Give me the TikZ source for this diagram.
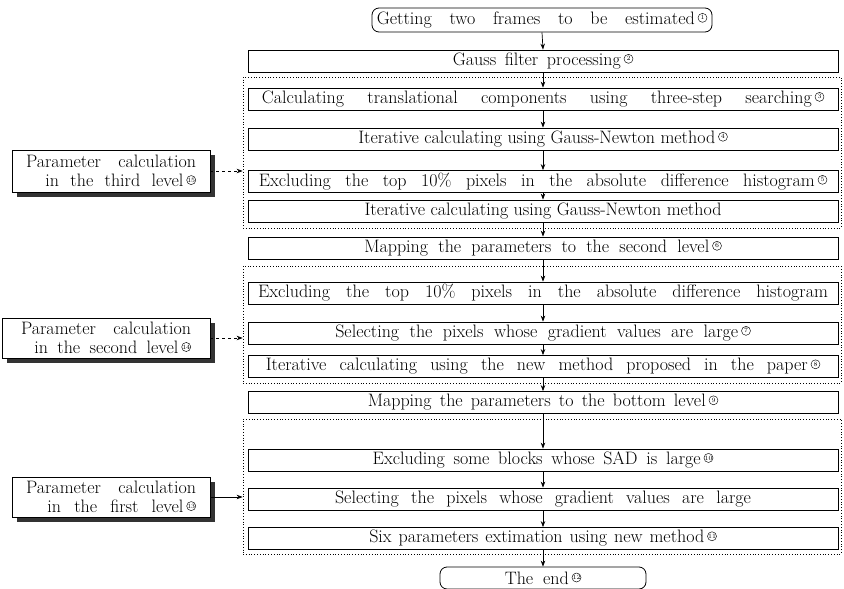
\documentclass[tikz,border=0pt]{standalone}
\usepackage{fontspec}
\setmainfont{Latin Modern Roman}
\usetikzlibrary{arrows.meta,shadows}
\newcommand{\cn}[1]{\,\raisebox{4.5pt}{\tikz[baseline=(cc.base)]\node[circle,draw,line width=0.45pt,inner sep=0pt,minimum size=9pt,font=\fontsize{6.5}{6.5}\selectfont](cc){#1};}}
\newcommand{\wl}[2]{\makebox[#1pt][s]{#2}}
\begin{document}
\begin{tikzpicture}[x=1pt,y=-1pt,
  mainbox/.style={draw, line width=0.8pt, minimum width=590pt, minimum height=22pt, inner sep=0pt, font=\fontsize{18}{20}\selectfont},
  termbox/.style={draw, line width=0.8pt, rounded corners=7pt, minimum height=24pt, inner sep=0pt, font=\fontsize{18}{20}\selectfont},
  sidebox/.style={draw, fill=white, line width=0.8pt, align=right, inner sep=0pt, font=\fontsize{18}{19}\selectfont,
    drop shadow={shadow xshift=5pt, shadow yshift=-5pt, opacity=1, fill=black!80}},
  flow/.style={-{Stealth[length=6pt,width=4.5pt]}, line width=0.7pt},
  group/.style={draw, dotted, line width=0.8pt, inner sep=0pt}
]
\useasboundingbox (0,0) rectangle (844,589);
% groups
\node[group, minimum width=598pt, minimum height=151pt] (g3) at (542,152.5) {};
\node[group, minimum width=598pt, minimum height=117pt] (g2) at (542,324.5) {};
\node[group, minimum width=598pt, minimum height=135pt] (g1) at (542,486.5) {};
% main flow
\node[termbox, minimum width=340pt] (start) at (542,20) {\wl{318}{Getting two frames to be estimated}\cn{1}};
\node[mainbox] (b2) at (543,61) {\wl{168}{Gauss filter processing}\cn{2}};
\node[mainbox] (b3) at (543,99) {\wl{550}{Calculating translational components using three-step searching}\cn{3}};
\node[mainbox] (b4) at (543,139) {Iterative calculating using Gauss-Newton method\cn{4}};
\node[mainbox] (b5) at (543,181.5) {\wl{556}{Excluding the top 10\% pixels in the absolute difference histogram}\cn{5}};
\node[mainbox] (b6) at (543,211) {Iterative calculating using Gauss-Newton method};
\node[mainbox] (b7) at (543,248) {\wl{345}{Mapping the parameters to the second level}\cn{6}};
\node[mainbox] (b8) at (543,293) {\wl{570}{Excluding the top 10\% pixels in the absolute difference histogram}};
\node[mainbox] (b9) at (543,333) {\wl{403}{Selecting the pixels whose gradient values are large}\cn{7}};
\node[mainbox] (b10) at (543,366.5) {\wl{542}{Iterative calculating using the new method proposed in the paper}\cn{8}};
\node[mainbox] (b11) at (543,402.5) {\wl{338}{Mapping the parameters to the bottom level}\cn{9}};
\node[mainbox] (b12) at (543,460) {\wl{328}{Excluding some blocks whose SAD is large}\cn{10}};
\node[mainbox] (b13) at (543,499) {\wl{416}{Selecting the pixels whose gradient values are large}};
\node[mainbox] (b14) at (543,538.5) {\wl{335}{Six parameters extimation using new method}\cn{11}};
\node[termbox, minimum width=206pt, minimum height=22pt] (end) at (543,578) {\wl{64}{The end}\cn{12}};
% arrows
\foreach \a/\b in {start/b2,b2/b3,b3/b4,b4/b5,b5/b6,b6/b7,b7/b8,b8/b9,b9/b10,b10/b11,b11/b12,b12/b13,b13/b14,b14/end}
  \draw[flow] (\a.south) -- (\b.north);
% side boxes
\node[sidebox, minimum width=198pt, minimum height=42pt] (s3) at (111,171) {\wl{170}{Parameter calculation}\\ \wl{138}{in the third level}\cn{15}\hspace{6pt}};
\node[sidebox, minimum width=208pt, minimum height=40pt] (s2) at (106,338) {\wl{170}{Parameter calculation}\\ \wl{144}{in the second level}\cn{14}};
\node[sidebox, minimum width=198pt, minimum height=40pt] (s1) at (111,497) {\wl{170}{Parameter calculation}\\ \wl{136}{in the first level}\cn{13}};
\draw[flow, dashed] (s3.east) -- (s3.east -| g3.west);
\draw[flow, dashed] (s2.east) -- (s2.east -| g2.west);
\draw[flow] (s1.east) -- (s1.east -| g1.west);
\end{tikzpicture}
\end{document}
